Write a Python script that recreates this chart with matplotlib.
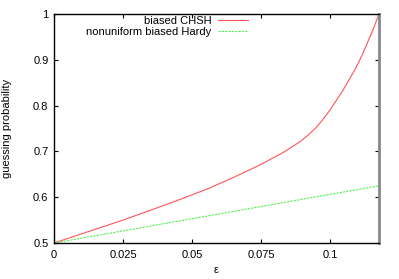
import matplotlib
matplotlib.use("Agg")
import matplotlib.pyplot as plt

plt.rcParams['font.family'] = ['Liberation Sans', 'DejaVu Sans']

# values
eps_chsh = [0, 0.0125, 0.025, 0.0375, 0.0456, 0.0556, 0.0650, 0.0745, 0.0829,
            0.0889, 0.0920, 0.0950, 0.0975, 0.1000, 0.1046, 0.1094, 0.1115,
            0.1136, 0.1157, 0.1178]
p_chsh = [0.5, 0.525, 0.550, 0.577, 0.595, 0.618, 0.643, 0.670, 0.697,
          0.720, 0.735, 0.752, 0.770, 0.790, 0.832, 0.882, 0.908, 0.937,
          0.967, 1.0]

eps_hardy = [0, 0.0745, 0.1178]
p_hardy = [0.5, 0.579, 0.625]

xticks = [0, 0.025, 0.05, 0.075, 0.1]
xticklabels = ["0", "0.025", "0.05", "0.075", "0.1"]
yticks = [0.5, 0.6, 0.7, 0.8, 0.9, 1.0]
yticklabels = ["0.5", "0.6", "0.7", "0.8", "0.9", "1"]

fig = plt.figure(figsize=(3.99, 2.79), dpi=100)
ax = fig.add_axes([54 / 399, 36 / 279, 325 / 399, 229 / 279])

ax.plot(eps_chsh, p_chsh, color="#ff5555", lw=0.8, label="biased CHSH")
ax.plot(eps_hardy, p_hardy, color="#55ee55", lw=0.8, ls=(0, (2, 1)),
        label="nonuniform biased Hardy")

ax.set_xlim(0, 0.1178)
ax.set_ylim(0.5, 1.0)
ax.set_xticks(xticks)
ax.set_xticklabels(xticklabels)
ax.set_yticks(yticks)
ax.set_yticklabels(yticklabels)
ax.tick_params(direction="in", top=True, right=True, length=3, width=0.8,
               labelsize=8, colors="black")
ax.tick_params(axis="x", pad=5)
ax.tick_params(axis="y", pad=4)

for s in ["left", "bottom", "top"]:
    ax.spines[s].set_linewidth(1.0)
ax.spines["right"].set_color("#888888")
ax.spines["right"].set_linewidth(2.0)

ax.set_xlabel("ε", fontsize=8)
ax.set_ylabel("guessing probability", fontsize=8)
ax.xaxis.set_label_coords(0.5, -0.095)
ax.yaxis.set_label_coords(-0.13, 0.5)

ax.legend(loc="upper right", bbox_to_anchor=(0.605, 1.0), frameon=False,
          markerfirst=False, fontsize=8, handlelength=2.7, handletextpad=0.6,
          labelspacing=0.05, borderpad=0.2, borderaxespad=0)

fig.savefig("out.png", dpi=100)
